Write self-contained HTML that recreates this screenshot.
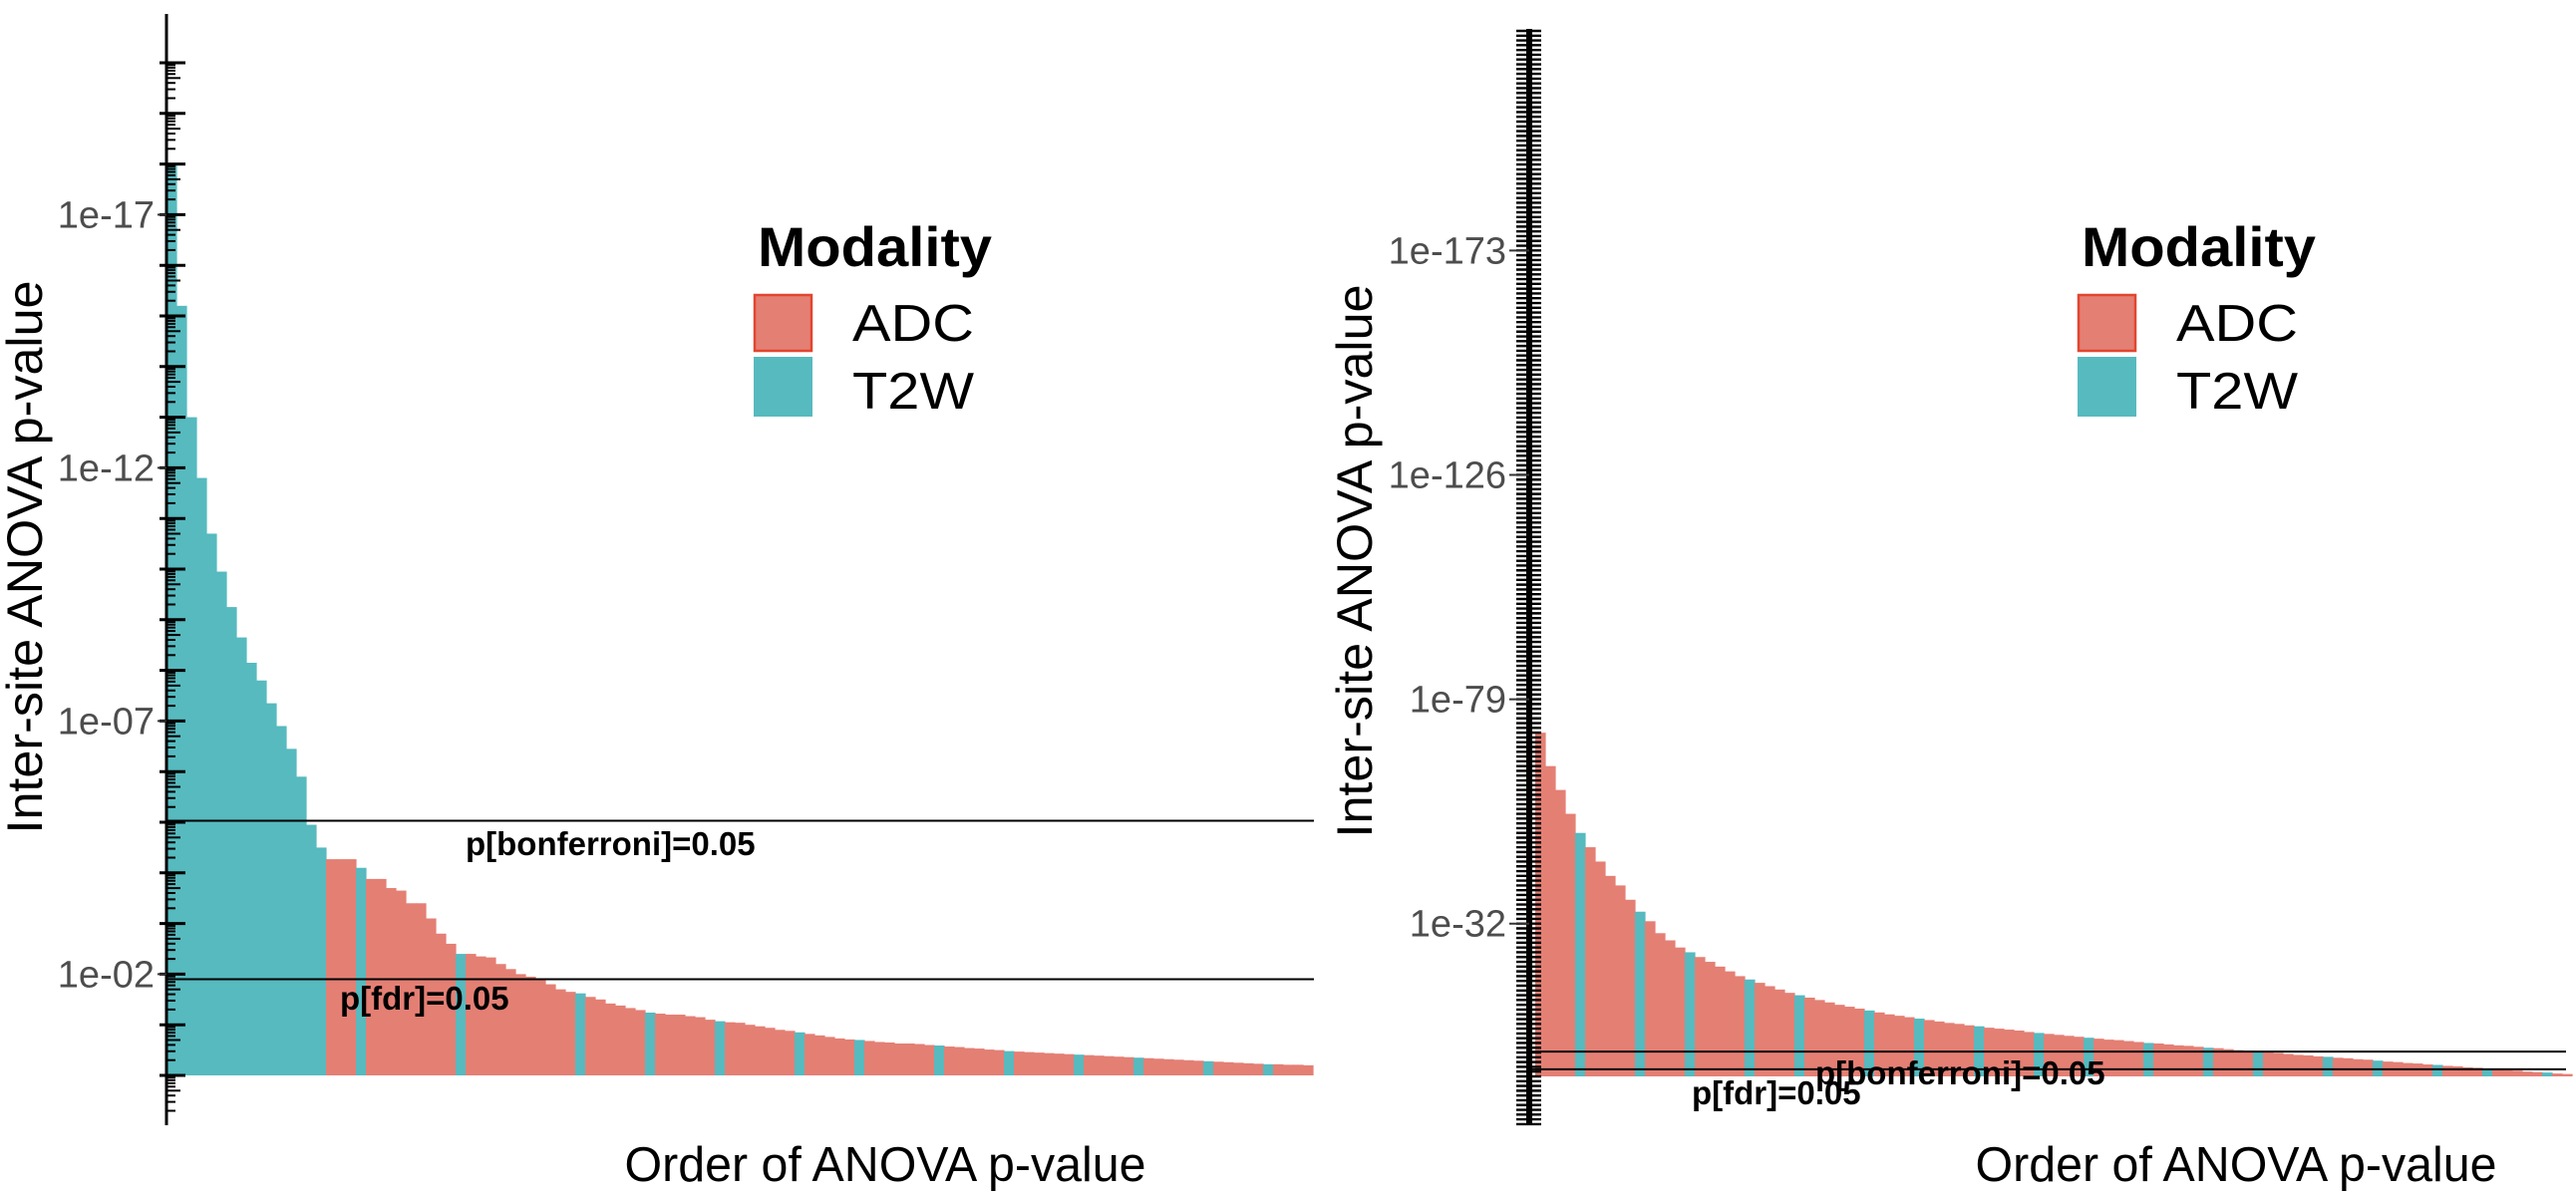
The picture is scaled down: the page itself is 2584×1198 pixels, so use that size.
<!DOCTYPE html>
<html><head><meta charset="utf-8"><style>
html,body{margin:0;padding:0;background:#fff;}
svg{display:block;font-family:"Liberation Sans",Arial,sans-serif;}
</style></head><body>
<svg id="fig" width="2584" height="1198" viewBox="0 0 2584 1198">
<g id="left"></g>
<g id="right"></g>
</svg>
<script>
// values are -log10(p) per bar, in rank order
const leftValues = [18.0,15.2,13.0,11.8,10.7,9.95,9.25,8.65,8.15,7.8,7.35,6.9,6.45,5.9,4.95,4.5,4.27,4.27,4.27,4.1,3.88,3.88,3.7,3.65,
3.4,3.4,3.1,2.8,2.6,2.4,2.4,2.35,2.33,2.2,2.1,2.0,1.95,1.9,1.8,1.7,1.65,1.62,1.55,1.5,1.42,1.38,1.33,1.29,1.24,1.22,1.2,1.2,1.17,1.15,1.1,
1.07,1.05,1.04,1.0,0.97,0.94,0.9,0.88,0.85,0.82,0.79,0.76,0.73,0.71,0.7,0.68,0.66,0.65,0.63,0.63,0.62,0.6,0.59,0.57,0.56,0.54,0.53,0.51,0.5,0.48,
0.47,0.46,0.45,0.44,0.43,0.42,0.41,0.40,0.39,0.38,0.37,0.36,0.35,0.34,0.33,0.32,0.31,0.30,0.29,0.28,0.27,0.26,0.25,0.24,0.23,0.22,0.22,0.21,0.21,0.2];
const leftModality = ("TTTTTTTTTTTTTTTT"+"AAAT"+"AAAAAAAAATAAAAAAAAAAATAAAAAATAAAAAATAAAAAAATAAAAATAAAAAAATAAAAAATAAAAAATAAAAATAAAAAATAAAAATAAA").split("");
const leftTicks = ["1e-17","1e-12","1e-07","1e-02"];
const leftTickExp = [17,12,7,2];
const leftLines = [5.03, 1.9];
const leftLineLabels = ["p[bonferroni]=0.05","p[fdr]=0.05"];

const rightValues = [72,65,60,55,51,48,45,42,40,37,34.5,32.5,30,28.5,27,26,25,24,23,22,21,20.3,19.6,18.9,18.2,17.5,17.0,16.5,16.0,15.5,15.0,14.6,14.2,13.8,13.4,13.0,12.7,12.4,12.1,11.8,11.5,11.2,11.0,10.7,10.5,10.2,10.0,9.8,9.6,9.3,9.1,8.9,8.7,8.5,8.3,8.1,7.9,7.7,7.6,7.4,7.2,7.0,6.9,6.7,6.5,6.4,6.2,6.0,5.9,5.7,5.5,5.4,5.2,5.0,4.9,4.7,4.5,4.4,4.2,4.1,3.9,3.8,3.6,3.5,3.3,3.1,3.0,2.8,2.7,2.5,2.4,2.2,2.1,1.9,1.8,1.6,1.5,1.3,1.2,1.0,0.9,0.8,0.6,0.5];
const rightModality = "AAAATAAAAATAAAATAAAAATAAAATAAAAAATAAAATAAAAATAAAAATAAAATAAAAATAAAAATAAAATAAAAAATAAAATAAAAATAAAATAAAAATAA".split("");
const rightTicks = ["1e-173","1e-126","1e-79","1e-32"];
const rightTickExp = [173,126,79,32];
const rightLines = [5.2, 1.5];
const rightLineLabels = ["p[bonferroni]=0.05","p[fdr]=0.05"];

const NS="http://www.w3.org/2000/svg";
const COL={A:"#e47f74",T:"#56babf"};
function mk(parent,tag,attrs,text){const e=document.createElementNS(NS,tag);for(const k in attrs)e.setAttribute(k,attrs[k]);if(text!==undefined)e.textContent=text;parent.appendChild(e);return e;}

function chart(g,cfg){
  const y=v=>cfg.y0-v*cfg.ppd;
  const x=i=>cfg.x0+i*cfg.bw;
  cfg.values.forEach((v,i)=>{
    const r=mk(g,"rect",{x:x(i),y:y(v),width:cfg.bw+0.6,height:y(0)-y(v),fill:COL[cfg.mod[i]||"A"]});
    
    
  });
  const ax=mk(g,"line",{x1:cfg.axX,x2:cfg.axX,y1:cfg.axTop,y2:cfg.axBot,stroke:"#000","stroke-width":cfg.axW});
  
  
  const vmin=Math.ceil((cfg.y0-cfg.axBot)/cfg.ppd), vmax=Math.floor((cfg.y0-cfg.axTop)/cfg.ppd);
  for(let d=vmin;d<=vmax;d++){
    const t=mk(g,"line",{x1:cfg.tk1,x2:cfg.tk2,y1:y(d),y2:y(d),stroke:"#000","stroke-width":cfg.tkW});
    
    
    if(cfg.minor){
      for(let m=2;m<=9;m++){
        const yy=y(d-1+Math.log10(m));
        if(yy<cfg.axTop||yy>cfg.axBot)continue;
        const mt=mk(g,"line",{x1:cfg.axX,x2:cfg.axX+(m==5?14:9),y1:yy,y2:yy,stroke:"#000","stroke-width":2});
        
        
      }
    }
  }
  cfg.ticks.forEach((lab,i)=>{
    const yy=y(cfg.tickExp[i]);
    const tt=mk(g,"text",{x:cfg.lblX,y:yy+13,"text-anchor":"end","font-size":38,fill:"#4d4d4d"},lab);
    
    
    const tm=mk(g,"line",{x1:cfg.lblX+3,x2:cfg.axX,y1:yy,y2:yy,stroke:"#333","stroke-width":2});
    
    
  });
  cfg.lines.forEach((v,i)=>{
    const l=mk(g,"line",{x1:cfg.axX,x2:cfg.xEnd,y1:y(v),y2:y(v),stroke:"#000","stroke-width":2});
    
    
    const t=mk(g,"text",{x:cfg.lineLblPos[i][0],y:cfg.lineLblPos[i][1],"font-size":33,"font-weight":"bold",fill:"#000"},cfg.lineLabels[i]);
    
    
  });
  const yt=mk(g,"text",{x:0,y:0,transform:`translate(${cfg.ytX},${cfg.ytY}) rotate(-90)`,"text-anchor":"middle","font-size":50,fill:"#000",textLength:555,lengthAdjust:"spacingAndGlyphs"},"Inter-site ANOVA p-value");
  
  
  const xt=mk(g,"text",{x:cfg.xtX,y:1185,"text-anchor":"middle","font-size":49,fill:"#000",textLength:523,lengthAdjust:"spacingAndGlyphs"},"Order of ANOVA p-value");
  
  
  const L=cfg.leg;
  const lt=mk(g,"text",{x:L[0]+4,y:267,"font-size":56,"font-weight":"bold",fill:"#000",textLength:235,lengthAdjust:"spacingAndGlyphs"},"Modality");
  
  
  const k1=mk(g,"rect",{x:L[0]+1,y:296,width:57,height:56,fill:COL.A,stroke:"#e2452f","stroke-width":2.5});
  
  
  const k2=mk(g,"rect",{x:L[0],y:358,width:59,height:60,fill:COL.T});
  
  
  const a=mk(g,"text",{x:L[1],y:342,"font-size":52,fill:"#000",textLength:122,lengthAdjust:"spacingAndGlyphs"},"ADC");
  
  
  const b=mk(g,"text",{x:L[1],y:410,"font-size":52,fill:"#000",textLength:122,lengthAdjust:"spacingAndGlyphs"},"T2W");
  
  
}

chart(document.getElementById("left"),{values:leftValues,mod:leftModality,x0:167,bw:10,y0:1079,ppd:50.8,
  axX:167,axTop:14,axBot:1129,axW:3,tk1:160,tk2:186,tkW:3,minor:true,ticks:leftTicks,tickExp:leftTickExp,lblX:155,
  lines:leftLines,lineLabels:leftLineLabels,lineLblPos:[[467,858],[341,1013]],xEnd:1318,ytX:42,ytY:559,xtX:888,leg:[756,855]});
chart(document.getElementById("right"),{values:rightValues,mod:rightModality,x0:1540,bw:10,y0:1080,ppd:4.79,
  axX:1534,axTop:29,axBot:1129,axW:6,tk1:1521,tk2:1546,tkW:2.4,minor:false,ticks:rightTicks,tickExp:rightTickExp,lblX:1511,
  lines:rightLines,lineLabels:rightLineLabels,lineLblPos:[[1821,1088],[1697,1108]],xEnd:2574,ytX:1376,ytY:563,xtX:2243,leg:[2084,2183]});
</script>
</body></html>
